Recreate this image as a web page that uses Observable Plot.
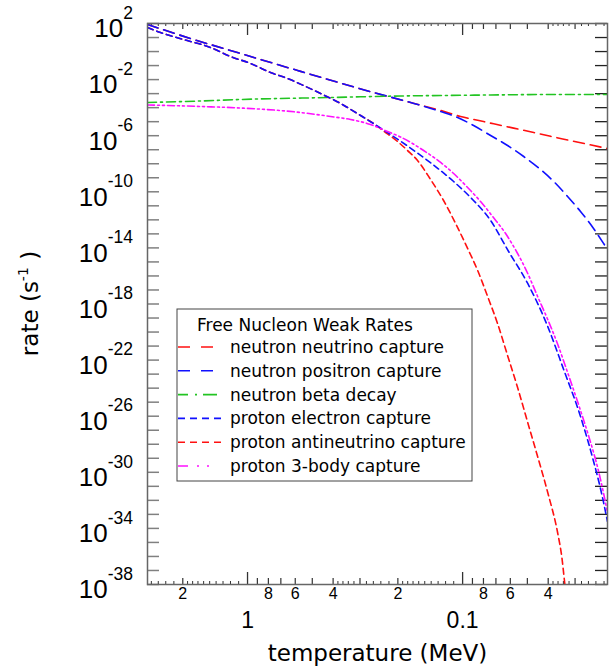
<!DOCTYPE html>
<html>
<head>
<meta charset="utf-8">
<script src="https://cdn.jsdelivr.net/npm/d3@7"></script>
<script src="https://cdn.jsdelivr.net/npm/@observablehq/plot@0.6"></script>
<style>
  html, body { margin: 0; padding: 0; background: #fff; }
  svg { display: block; }
</style>
</head>
<body>
<div id="chart"></div>
<script>
// ---------------- data (temperature in MeV, rate in s^-1) ----------------
const seriesNames = [
  "neutron neutrino capture",
  "neutron positron capture",
  "neutron beta decay",
  "proton electron capture",
  "proton antineutrino capture",
  "proton 3-body capture"
];

const T_nNu = [2.918, 1.841, 1.078, 0.585, 0.3774, 0.2594, 0.1745, 0.1265, 0.1022, 0.0851, 0.0717, 0.0579, 0.0467, 0.039, 0.0315, 0.0262, 0.0212];
const R_nNu = [8.5e1, 8.5e0, 7.3e-1, 4.46e-2, 6.2e-3, 1.2e-3, 2.33e-4, 6.27e-5, 2.34e-5, 1.25e-5, 7.06e-6, 3.48e-6, 1.69e-6, 9.06e-7, 4.48e-7, 2.44e-7, 1.22e-7];

const T_nPos = [2.918, 1.841, 1.078, 0.585, 0.3774, 0.2594, 0.1745, 0.1265, 0.1055, 0.0889, 0.0741, 0.0618, 0.052, 0.0434, 0.0377, 0.0325, 0.0283, 0.0248, 0.0221, 0.0212];
const R_nPos = [8.5e1, 8.5e0, 7.3e-1, 4.46e-2, 6.2e-3, 1.2e-3, 2.33e-4, 5.31e-5, 1.99e-5, 5.33e-6, 1.03e-6, 2.0e-7, 3.29e-8, 3.89e-9, 5.42e-10, 4.62e-11, 3.94e-12, 2.85e-13, 2.06e-14, 7.69e-15];

const T_beta = [2.918, 1.654, 1.078, 0.411, 0.1943, 0.1265, 0.0741, 0.039, 0.0212];
const R_beta = [2.33e-4, 2.98e-4, 3.81e-4, 5.30e-4, 6.78e-4, 7.35e-4, 7.98e-4, 8.67e-4, 8.67e-4];

const T_pE = [2.918, 2.539, 1.985, 1.486, 1.200, 0.968, 0.782, 0.652, 0.549, 0.4575, 0.3694, 0.298, 0.233, 0.1943, 0.162, 0.1364, 0.1101, 0.0918, 0.0741, 0.0611, 0.0498, 0.0402, 0.0339, 0.0283, 0.0246, 0.0228, 0.0212];
const R_pE = [5.19e1, 2.28e1, 7.23e0, 1.95e0, 4.44e-1, 1.41e-1, 3.21e-2, 1.20e-2, 3.79e-3, 1.02e-3, 1.98e-4, 2.75e-5, 2.55e-6, 4.06e-7, 5.74e-8, 8.02e-9, 5.42e-10, 3.93e-11, 9.0e-13, 5.53e-15, 2.90e-17, 2.49e-20, 2.14e-23, 9.53e-27, 5.89e-30, 5.94e-32, 3.10e-34];

const T_pNu = [2.918, 2.539, 1.985, 1.486, 1.200, 0.968, 0.782, 0.652, 0.549, 0.4575, 0.3694, 0.298, 0.2594, 0.233, 0.2006, 0.1803, 0.162, 0.1409, 0.1226, 0.1078, 0.0938, 0.0851, 0.0765, 0.0688, 0.0618, 0.0555, 0.0498, 0.0448, 0.0402, 0.0361, 0.0346, 0.0335, 0.0328];
const R_pNu = [5.19e1, 2.28e1, 7.23e0, 1.95e0, 4.44e-1, 1.41e-1, 3.21e-2, 1.20e-2, 3.79e-3, 1.02e-3, 1.98e-4, 2.75e-5, 7.41e-6, 2.16e-6, 3.86e-7, 8.81e-8, 1.71e-8, 7.53e-10, 2.40e-11, 5.50e-13, 6.53e-15, 2.45e-16, 3.43e-18, 4.07e-20, 2.13e-22, 1.11e-24, 3.56e-27, 1.34e-29, 3.63e-32, 4.33e-35, 9.9e-37, 1.18e-38, 7.2e-40];

const T_p3 = [2.918, 1.654, 1.078, 0.567, 0.411, 0.332, 0.268, 0.2233, 0.1943, 0.1518, 0.1265, 0.1101, 0.0948, 0.0825, 0.0725, 0.0631, 0.0555, 0.0498, 0.0448, 0.0402, 0.0361, 0.0325, 0.0283, 0.0259, 0.0235, 0.0221, 0.0212];
const R_p3 = [1.55e-4, 1.21e-4, 9.44e-5, 4.51e-5, 2.34e-5, 1.43e-5, 6.29e-6, 1.99e-6, 8.07e-7, 8.81e-8, 1.23e-8, 2.02e-9, 2.03e-10, 2.03e-11, 1.73e-12, 1.06e-13, 3.99e-15, 1.50e-16, 3.43e-18, 7.85e-20, 1.29e-21, 1.31e-23, 2.55e-26, 3.57e-28, 1.87e-30, 3.08e-32, 1.36e-33];

// axis ticks & labels
const xDomain = [2.918, 0.0212];
const yDomain = [1e-38, 1e2];
const xMajorTicks = [1, 0.1];
const xMediumTicks = [2, 0.9, 0.8, 0.7, 0.6, 0.5, 0.4, 0.3, 0.2, 0.09, 0.08, 0.07, 0.06, 0.05, 0.04, 0.03];
const xMinorTicks = [2.8, 2.6, 2.4, 2.2, 1.9, 1.8, 1.7, 1.6, 1.5, 1.4, 1.3, 1.2, 1.1,
  0.38, 0.36, 0.34, 0.32, 0.28, 0.26, 0.24, 0.22,
  0.19, 0.18, 0.17, 0.16, 0.15, 0.14, 0.13, 0.12, 0.11,
  0.038, 0.036, 0.034, 0.032, 0.028, 0.026, 0.024, 0.022];
const xSmallLabelValues = [2, 0.8, 0.6, 0.4, 0.2, 0.08, 0.06, 0.04];
const xSmallLabelTexts = ["2", "8", "6", "4", "2", "8", "6", "4"];
const xBigLabelValues = [1, 0.1];
const xBigLabelTexts = ["1", "0.1"];
const yTickExps = [2,1,0,-1,-2,-3,-4,-5,-6,-7,-8,-9,-10,-11,-12,-13,-14,-15,-16,-17,-18,-19,-20,-21,-22,-23,-24,-25,-26,-27,-28,-29,-30,-31,-32,-33,-34,-35,-36,-37,-38];
const yLabelExps = [2, -2, -6, -10, -14, -18, -22, -26, -30, -34, -38];

const xTitle = "temperature (MeV)";
const yTitle = ["rate (s", "-1", ")"];
const legendTitle = "Free Nucleon Weak Rates";

// ---------------- styles ----------------
const colors = ["#ff1010", "#1010ff", "#22c422", "#1010ff", "#ff1010", "#ff10ff"];
const dashes = ["11,6", "11,6", "9,4,2,4", "6,4", "6,4", "7,3,2,3,2,3"];
const legendDashes = ["12,11", "12,11", "10,7,2,6,14", "7,5", "7,5", "10,9,2,8,2"];
const legendLen = [35, 35, 40, 44, 44, 34];

const NUM = "'Liberation Sans', Arial, sans-serif";
const TXT = "'DejaVu Sans', Verdana, sans-serif";

const W = 610, H = 672, mL = 147, mR = 3, mT = 23, mB = 88;
const innerW = W - mL - mR, innerH = H - mT - mB;

const seriesT = [T_nNu, T_nPos, T_beta, T_pE, T_pNu, T_p3];
const seriesR = [R_nNu, R_nPos, R_beta, R_pE, R_pNu, R_p3];
const tables = seriesT.map((Ts, s) => Ts.map((T, i) => ({series: seriesNames[s], T, rate: seriesR[s][i]})));
const yTickValues = yTickExps.map(e => Math.pow(10, e));

const drawOrder = [0, 1, 2, 4, 3, 5];
const lineMarks = drawOrder.map(s => Plot.line(tables[s], {
  x: "T", y: "rate", stroke: colors[s], strokeWidth: 1.6,
  strokeDasharray: dashes[s], curve: "monotone-x", clip: true
}));

const plot = Plot.plot({
  width: W, height: H,
  marginLeft: mL, marginRight: mR, marginTop: mT, marginBottom: mB,
  x: {type: "log", domain: xDomain, axis: null},
  y: {type: "log", domain: yDomain, axis: null},
  style: {background: "white"},
  marks: [
    Plot.ruleY(yTickValues, {y: d => d, stroke: "#808080", strokeWidth: 1.5, insetRight: innerW - 12}),
    Plot.ruleY(yTickValues, {y: d => d, stroke: "#222", strokeWidth: 1.3, insetLeft: innerW - 12}),
    Plot.ruleX(xMajorTicks, {x: d => d, stroke: "#333", strokeWidth: 1.3, insetTop: innerH - 12}),
    Plot.ruleX(xMediumTicks, {x: d => d, stroke: "#333", strokeWidth: 1.2, insetTop: innerH - 6}),
    Plot.ruleX(xMinorTicks, {x: d => d, stroke: "#333", strokeWidth: 1, insetTop: innerH - 3}),
    Plot.ruleX(xMajorTicks, {x: d => d, stroke: "#333", strokeWidth: 1.3, insetBottom: innerH - 12}),
    Plot.ruleX(xMediumTicks, {x: d => d, stroke: "#333", strokeWidth: 1.2, insetBottom: innerH - 6}),
    Plot.ruleX(xMinorTicks, {x: d => d, stroke: "#333", strokeWidth: 1, insetBottom: innerH - 3}),
    ...lineMarks,
    Plot.frame({stroke: "#666", strokeWidth: 1.5}),
    Plot.text(xSmallLabelValues, {x: d => d, text: (d, i) => xSmallLabelTexts[i], frameAnchor: "bottom",
      dy: 14, fontSize: 16, fontFamily: NUM, fill: "#000"}),
    Plot.text(xBigLabelValues, {x: d => d, text: (d, i) => xBigLabelTexts[i], frameAnchor: "bottom",
      dy: 43, fontSize: 23, fontFamily: NUM, fill: "#000"}),
    Plot.text([xTitle], {text: d => d, frameAnchor: "bottom", dy: 76, fontSize: 23, fontFamily: TXT, fill: "#000"})
  ]
});

document.getElementById("chart").appendChild(plot);

// ---------------- y labels with superscripts ----------------
const svg = d3.select(plot);
const ys = plot.scale("y");
const gy = svg.append("g").attr("font-family", NUM).attr("fill", "#000").attr("text-anchor", "end");
yLabelExps.forEach(e => {
  const yy = ys.apply(Math.pow(10, e));
  const t = gy.append("text")
    .attr("x", mL - 14).attr("y", yy + 14.3)
    .attr("text-anchor", "end").attr("font-size", 26);
  t.append("tspan").text("10");
  t.append("tspan").attr("dy", -18.6).attr("font-size", 17.5).text(String(e));
});

// y title
const yt = svg.append("text")
  .attr("transform", `translate(38,${mT + innerH / 2}) rotate(-90)`)
  .attr("text-anchor", "middle").attr("font-family", TXT).attr("font-size", 23).attr("fill", "#000");
yt.append("tspan").text(yTitle[0]);
yt.append("tspan").attr("dy", -10).attr("font-size", 14).text(yTitle[1]);
yt.append("tspan").attr("dy", 10).text(" " + yTitle[2]);

// ---------------- legend ----------------
const lg = svg.append("g").attr("font-family", TXT).attr("text-anchor", "start");
const lx = 177, ly = 309, lw = 295, lh = 172;
lg.append("rect").attr("x", lx).attr("y", ly).attr("width", lw).attr("height", lh)
  .attr("fill", "white").attr("stroke", "#444").attr("stroke-width", 1);
lg.append("text").attr("x", lx + 20).attr("y", ly + 22).attr("font-size", 17)
  .attr("text-anchor", "start").attr("fill", "#000").text(legendTitle);
seriesNames.forEach((name, i) => {
  const cy = ly + 38 + i * 23.8;
  lg.append("line").attr("x1", lx + 1).attr("x2", lx + 1 + legendLen[i]).attr("y1", cy).attr("y2", cy)
    .attr("stroke", colors[i]).attr("stroke-width", 1.6).attr("stroke-dasharray", legendDashes[i]);
  lg.append("text").attr("x", lx + 53).attr("y", cy + 6).attr("font-size", 17)
    .attr("text-anchor", "start").attr("fill", "#000").text(name);
});
</script>
</body>
</html>
